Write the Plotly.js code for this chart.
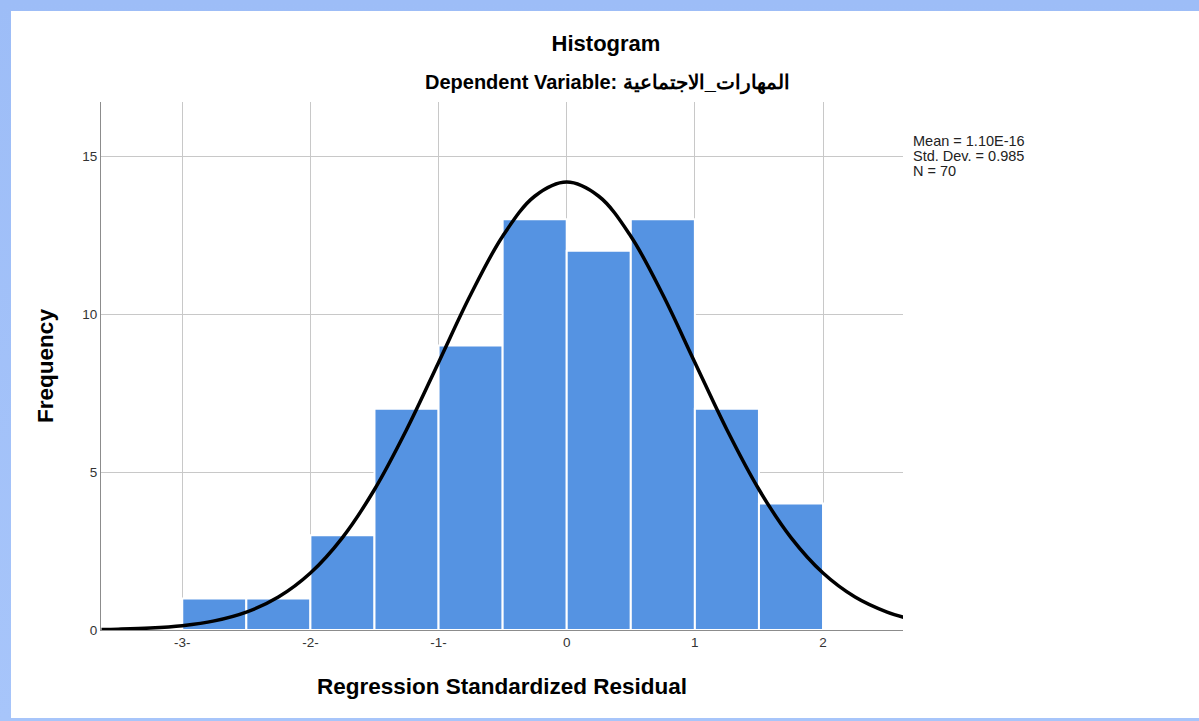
<!DOCTYPE html>
<html>
<head>
<meta charset="utf-8">
<script src="https://cdn.plot.ly/plotly-3.0.1.min.js"></script>
<style>
  html, body { margin: 0; padding: 0; width: 1199px; height: 721px; overflow: hidden; }
  body { background: linear-gradient(#9dbdf7, #a7c5fa); }
  #frame { position: absolute; left: 11px; top: 11px; width: 1188px; height: 707px; background: #ffffff; }
  #chart { position: absolute; left: -11px; top: -11px; width: 1199px; height: 721px; }
</style>
</head>
<body>
<div id="frame"><div id="chart"></div></div>
<script>
// Histogram bins (centres) and frequencies
const binCenters = [-2.75, -2.25, -1.75, -1.25, -0.75, -0.25, 0.25, 0.75, 1.25, 1.75];
const frequencies = [1, 1, 3, 7, 9, 13, 12, 13, 7, 4];
const binWidth = 0.5;

// Normal curve
const curveX = [-3.63, -3.5, -3.25, -3.0, -2.75, -2.5, -2.25, -2.0, -1.75, -1.5, -1.25, -1.0, -0.75, -0.5, -0.25, 0.0,
                0.25, 0.5, 0.75, 1.0, 1.25, 1.5, 1.75, 2.0, 2.25, 2.5, 2.63];
const curveY = [0.016, 0.026, 0.061, 0.137, 0.288, 0.566, 1.044, 1.804, 2.925, 4.446, 6.337, 8.467, 10.608, 12.462, 13.727, 14.176,
                13.727, 12.462, 10.608, 8.467, 6.337, 4.446, 2.925, 1.804, 1.044, 0.566, 0.401];

// Axis ticks
const xTickVals = [-3, -2, -1, 0, 1, 2];
const xTickText = ['-3-', '-2-', '-1-', '0', '1', '2'];
const yTickVals = [0, 5, 10, 15];
const yTickText = ['0', '5', '10', '15'];

// Statistics text
const statsLines = ['Mean = 1.10E-16', 'Std. Dev. = 0.985', 'N = 70'];

const FONT = 'Liberation Sans, Arial, sans-serif';
const plotL = 101, plotR = 903, plotT = 102, plotB = 630;
const pw = plotR - plotL, ph = plotB - plotT;

const traces = [
  {
    type: 'bar',
    x: binCenters,
    y: frequencies,
    width: binCenters.map(() => binWidth),
    marker: { color: '#5593e2', line: { color: '#ffffff', width: 2 } },
    hoverinfo: 'x+y',
    showlegend: false
  },
  {
    type: 'scatter',
    mode: 'lines',
    x: curveX,
    y: curveY,
    line: { color: '#000000', width: 3.5, shape: 'spline', smoothing: 1 },
    hoverinfo: 'skip',
    showlegend: false
  }
];

const annotations = [
  {
    text: '<b>Dependent Variable: المهارات_الاجتماعية</b>',
    xref: 'paper', yref: 'paper',
    x: (607 - plotL) / pw, y: 1 + (plotT - 83) / ph,
    xanchor: 'center', yanchor: 'middle',
    showarrow: false,
    font: { size: 20, family: FONT, color: '#000000' }
  }
];
statsLines.forEach((s, i) => {
  annotations.push({
    text: s,
    xref: 'paper', yref: 'paper',
    x: (912 - plotL) / pw, y: 1 - (141 + 15 * i - plotT) / ph,
    xanchor: 'left', yanchor: 'middle', align: 'left',
    borderpad: 0,
    showarrow: false,
    font: { size: 14.5, family: FONT, color: '#222222' }
  });
});

const layout = {
  width: 1199,
  height: 721,
  paper_bgcolor: 'rgba(0,0,0,0)',
  plot_bgcolor: '#ffffff',
  margin: { l: plotL, r: 1199 - plotR, t: plotT, b: 721 - plotB },
  font: { family: FONT, color: '#000000' },
  title: {
    text: '<b>Histogram</b>',
    font: { size: 22, family: FONT, color: '#000000' },
    x: 606 / 1199, xref: 'container', xanchor: 'center',
    y: 1 - 43 / 721, yref: 'container', yanchor: 'middle'
  },
  annotations: annotations,
  xaxis: {
    range: [-3.634, 2.624],
    tickmode: 'array',
    tickvals: xTickVals,
    ticktext: xTickText,
    ticks: '',
    tickfont: { size: 13.5, color: '#333333' },
    showgrid: true,
    gridcolor: '#c8c8c8',
    gridwidth: 1,
    zeroline: false,
    showline: true,
    linecolor: '#8c8c8c',
    linewidth: 1,
    title: { text: '<b>Regression Standardized Residual</b>', font: { size: 22.5, color: '#000000' }, standoff: 29 },
    fixedrange: true
  },
  yaxis: {
    range: [0, 16.71],
    tickmode: 'array',
    tickvals: yTickVals,
    ticktext: yTickText,
    ticks: '',
    tickfont: { size: 13.5, color: '#333333' },
    showgrid: true,
    gridcolor: '#c8c8c8',
    gridwidth: 1,
    zeroline: false,
    showline: true,
    linecolor: '#8c8c8c',
    linewidth: 1,
    title: { text: '<b>Frequency</b>', font: { size: 22.5, color: '#000000' }, standoff: 22 },
    fixedrange: true
  },
  bargap: 0
};

Plotly.newPlot('chart', traces, layout, { displayModeBar: false, staticPlot: true });
</script>
</body>
</html>
